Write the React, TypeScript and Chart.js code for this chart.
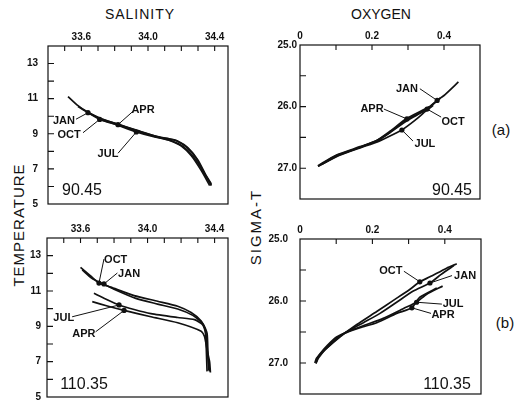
import React, { useEffect, useRef } from "react";
import { Chart, registerables } from "chart.js";

Chart.register(...registerables);

type Pt = [number, number];

const INK = "#111111";
const FONT = '"Liberation Sans", Arial, sans-serif';

// ---- axis ticks and labels ----
const salinityTicks = [33.4, 33.5, 33.6, 33.7, 33.8, 33.9, 34.0, 34.1, 34.2, 34.3, 34.4];
const salinityLabels = [33.6, 34.0, 34.4];
const temperatureTicks = [5, 6, 7, 8, 9, 10, 11, 12, 13];
const temperatureLabels = [5, 7, 9, 11, 13];
const oxygenTicks = [0, 0.1, 0.2, 0.3, 0.4];
const oxygenLabels = [0, 0.2, 0.4];
const sigmaTicks = [25.0, 25.5, 26.0, 26.5, 27.0];
const sigmaLabels = [25.0, 26.0, 27.0];

const months = ["JAN", "OCT", "APR", "JUL"];

// ---- (a) station 90.45 : salinity vs temperature ----
const aTsJan: Pt[] = [[33.52, 11.12], [33.58, 10.6], [33.64, 10.22], [33.72, 9.86], [33.82, 9.55], [33.94, 9.16], [34.06, 8.82], [34.13, 8.62], [34.2, 8.3], [34.26, 7.75], [34.32, 6.9], [34.37, 6.05]];
const aTsOct: Pt[] = [[33.58, 10.55], [33.64, 10.2], [33.71, 9.82], [33.82, 9.5], [33.95, 9.1], [34.06, 8.79], [34.14, 8.6], [34.21, 8.28], [34.27, 7.72], [34.33, 6.88], [34.38, 6.05]];
const aTsApr: Pt[] = [[33.64, 10.2], [33.72, 9.84], [33.82, 9.54], [33.94, 9.18], [34.05, 8.86], [34.12, 8.72], [34.17, 8.6], [34.23, 8.25], [34.29, 7.6], [34.34, 6.7], [34.38, 6.1]];
const aTsJul: Pt[] = [[33.7, 9.86], [33.8, 9.56], [33.93, 9.1], [34.04, 8.82], [34.12, 8.72], [34.18, 8.58], [34.24, 8.2], [34.3, 7.5], [34.35, 6.6], [34.38, 6.15]];
const aTsMarkers: Pt[] = [[33.64, 10.2], [33.71, 9.82], [33.82, 9.52], [33.93, 9.1]];
const aTsLabelAt: Pt[] = [[33.496, 9.72], [33.526, 8.94], [33.97, 10.33], [33.76, 7.83]];
const aTsLeaderFrom: Pt[] = [[33.568, 9.83], [33.61, 9.06], [33.91, 10.28], [33.82, 7.89]];

// ---- (a) station 90.45 : oxygen vs sigma-t ----
const aOxJan: Pt[] = [[0.05, 26.97], [0.1, 26.8], [0.167, 26.66], [0.213, 26.55], [0.25, 26.42], [0.3, 26.22], [0.35, 26.05], [0.381, 25.9], [0.4, 25.82], [0.44, 25.6]];
const aOxOct: Pt[] = [[0.06, 26.94], [0.1, 26.81], [0.167, 26.66], [0.213, 26.56], [0.25, 26.42], [0.297, 26.21], [0.353, 26.04], [0.39, 25.86]];
const aOxApr: Pt[] = [[0.05, 26.96], [0.1, 26.79], [0.167, 26.65], [0.213, 26.55], [0.25, 26.4], [0.297, 26.19], [0.34, 26.06], [0.36, 26.0]];
const aOxJul: Pt[] = [[0.05, 26.97], [0.11, 26.79], [0.167, 26.67], [0.22, 26.56], [0.26, 26.45], [0.283, 26.38], [0.32, 26.22], [0.35, 26.07], [0.37, 25.98]];
const aOxMarkers: Pt[] = [[0.381, 25.9], [0.353, 26.04], [0.297, 26.2], [0.283, 26.38]];
const aOxLabelAt: Pt[] = [[0.297, 25.71], [0.425, 26.25], [0.2, 26.04], [0.347, 26.61]];
const aOxLeaderFrom: Pt[] = [[0.333, 25.71], [0.392, 26.17], [0.233, 26.04], [0.314, 26.56]];

// ---- (b) station 110.35 : salinity vs temperature ----
const bTsJan: Pt[] = [[33.61, 12.19], [33.67, 11.7], [33.74, 11.38], [33.8, 11.1], [33.93, 10.58], [34.06, 10.26], [34.18, 9.98], [34.27, 9.62], [34.33, 9.15], [34.355, 8.6], [34.36, 7.5], [34.365, 6.5]];
const bTsOct: Pt[] = [[33.6, 12.34], [33.66, 11.85], [33.71, 11.45], [33.78, 11.22], [33.92, 10.74], [34.06, 10.42], [34.18, 10.14], [34.26, 9.78], [34.32, 9.3], [34.345, 8.8], [34.35, 7.86], [34.355, 6.45]];
const bTsApr: Pt[] = [[33.67, 10.4], [33.76, 10.15], [33.86, 9.9], [34.02, 9.54], [34.18, 9.2], [34.32, 8.72], [34.34, 8.42], [34.355, 7.67], [34.37, 7.0], [34.375, 6.39]];
const bTsJul: Pt[] = [[33.68, 10.87], [33.75, 10.55], [33.83, 10.21], [33.92, 9.95], [34.02, 9.72], [34.18, 9.5], [34.28, 9.38], [34.33, 9.08], [34.35, 8.42], [34.36, 7.3], [34.37, 6.45]];
const bTsMarkers: Pt[] = [[33.74, 11.4], [33.71, 11.45], [33.86, 9.9], [33.83, 10.21]];
const bTsLabelAt: Pt[] = [[33.89, 11.97], [33.81, 12.76], [33.62, 8.58], [33.5, 9.48]];
const bTsLeaderFrom: Pt[] = [[33.82, 12.02], [33.74, 12.81], [33.69, 8.69], [33.55, 9.54]];

// ---- (b) station 110.35 : oxygen vs sigma-t ----
const bOxJan: Pt[] = [[0.425, 25.43], [0.39, 25.57], [0.359, 25.71], [0.313, 25.84], [0.267, 26.02], [0.221, 26.2], [0.175, 26.35], [0.12, 26.53], [0.083, 26.71], [0.051, 26.89], [0.046, 26.97]];
const bOxOct: Pt[] = [[0.433, 25.4], [0.405, 25.47], [0.359, 25.61], [0.331, 25.69], [0.304, 25.81], [0.258, 25.99], [0.212, 26.17], [0.157, 26.38], [0.11, 26.58], [0.074, 26.76], [0.046, 26.92], [0.041, 27.0]];
const bOxApr: Pt[] = [[0.378, 25.79], [0.331, 25.94], [0.309, 26.11], [0.267, 26.2], [0.212, 26.35], [0.166, 26.43], [0.12, 26.53], [0.083, 26.69], [0.051, 26.92], [0.044, 27.01]];
const bOxJul: Pt[] = [[0.394, 25.76], [0.35, 25.89], [0.322, 26.02], [0.286, 26.12], [0.23, 26.28], [0.184, 26.38], [0.138, 26.48], [0.101, 26.58], [0.075, 26.72], [0.052, 26.88], [0.045, 26.98]];
const bOxMarkers: Pt[] = [[0.359, 25.71], [0.331, 25.69], [0.309, 26.11], [0.322, 26.02]];
const bOxLabelAt: Pt[] = [[0.456, 25.6], [0.251, 25.51], [0.395, 26.22], [0.423, 26.05]];
const bOxLeaderFrom: Pt[] = [[0.42, 25.59], [0.287, 25.52], [0.362, 26.2], [0.392, 26.05]];

type PanelProps = {
  box: [number, number, number, number]; // left, top, right, bottom (page px)
  xRange: [number, number];
  yRange: [number, number];
  yReverse: boolean;
  xTicks: number[];
  xLabels: number[];
  xFmt: (v: number) => string;
  yTicks: number[];
  yLabels: number[];
  yFmt: (v: number) => string;
  yPad: number;
  curves: Pt[][];
  markers: Pt[];
  labelAt: Pt[];
  leaderFrom: Pt[];
};

const LEFT = 45;
const TOP = 22;
const RIGHT = 8;
const BOTTOM = 12;

const has = (arr: number[], v: number) => arr.some((a) => Math.abs(a - v) < 1e-6);

function Panel(p: PanelProps) {
  const ref = useRef<HTMLCanvasElement | null>(null);
  const [bl, bt, br, bb] = p.box;
  const w = br - bl + LEFT + RIGHT;
  const h = bb - bt + TOP + BOTTOM;

  useEffect(() => {
    if (!ref.current) return;
    const frame = {
      id: "frame",
      afterDatasetsDraw(chart: any) {
        const { ctx, chartArea: a, scales } = chart;
        const xs = scales.x;
        const ys = scales.y;
        ctx.save();
        ctx.strokeStyle = INK;
        ctx.lineWidth = 1.2;
        ctx.strokeRect(a.left, a.top, a.right - a.left, a.bottom - a.top);
        ctx.lineWidth = 1.1;
        ctx.beginPath();
        xs.ticks.forEach((t: any) => {
          const px = xs.getPixelForValue(t.value);
          if (px > a.left + 1 && px < a.right - 1) {
            ctx.moveTo(px, a.top);
            ctx.lineTo(px, a.top + 5);
          }
        });
        ys.ticks.forEach((t: any) => {
          const py = ys.getPixelForValue(t.value);
          if (py > a.top + 1 && py < a.bottom - 1) {
            ctx.moveTo(a.left, py);
            ctx.lineTo(a.left + 6, py);
          }
        });
        ctx.stroke();
        // leaders
        ctx.lineWidth = 1;
        ctx.beginPath();
        p.leaderFrom.forEach((f, i) => {
          const m = p.markers[i];
          ctx.moveTo(xs.getPixelForValue(f[0]), ys.getPixelForValue(f[1]));
          ctx.lineTo(xs.getPixelForValue(m[0]), ys.getPixelForValue(m[1]));
        });
        ctx.stroke();
        ctx.fillStyle = INK;
        ctx.font = `bold 11px ${FONT}`;
        ctx.textAlign = "center";
        ctx.textBaseline = "middle";
        p.labelAt.forEach((l, i) => {
          ctx.fillText(months[i], xs.getPixelForValue(l[0]), ys.getPixelForValue(l[1]));
        });
        ctx.restore();
      },
    };

    const chart = new Chart(ref.current, {
      type: "scatter",
      data: {
        datasets: [
          ...p.curves.map((c) => ({
            data: c.map(([x, y]) => ({ x, y })),
            showLine: true,
            borderColor: INK,
            borderWidth: 1.7,
            pointRadius: 0,
            tension: 0.2,
            fill: false,
          })),
          {
            data: p.markers.map(([x, y]) => ({ x, y })),
            showLine: false,
            pointRadius: 2.6,
            pointBackgroundColor: INK,
            pointBorderWidth: 0,
            borderColor: INK,
          },
        ],
      } as any,
      options: {
        animation: false,
        responsive: false,
        maintainAspectRatio: false,
        layout: { padding: { left: 0, top: 0, right: RIGHT, bottom: BOTTOM } },
        plugins: { legend: { display: false }, tooltip: { enabled: false } },
        scales: {
          x: {
            type: "linear",
            position: "top",
            min: p.xRange[0],
            max: p.xRange[1],
            grid: { display: false, drawTicks: false },
            border: { display: false },
            ticks: {
              padding: 3,
              color: INK,
              font: { size: 10, family: FONT, weight: "bold" },
              maxRotation: 0,
              autoSkip: false,
              includeBounds: false,
              callback: (v: any) => (has(p.xLabels, Number(v)) ? p.xFmt(Number(v)) : ""),
            },
            afterBuildTicks: (s: any) => {
              s.ticks = p.xTicks.map((v) => ({ value: v }));
            },
            afterFit: (s: any) => {
              s.height = TOP;
            },
          },
          y: {
            type: "linear",
            position: "left",
            reverse: p.yReverse,
            min: p.yRange[0],
            max: p.yRange[1],
            grid: { display: false, drawTicks: false },
            border: { display: false },
            ticks: {
              padding: p.yPad,
              color: INK,
              font: { size: 10, family: FONT, weight: "bold" },
              autoSkip: false,
              includeBounds: false,
              callback: (v: any) => (has(p.yLabels, Number(v)) ? p.yFmt(Number(v)) : ""),
            },
            afterBuildTicks: (s: any) => {
              s.ticks = p.yTicks.map((v) => ({ value: v }));
            },
            afterFit: (s: any) => {
              s.width = LEFT;
            },
          },
        },
      } as any,
      plugins: [frame],
    });
    return () => chart.destroy();
  }, []);

  return (
    <div style={{ position: "absolute", left: bl - LEFT, top: bt - TOP, width: w, height: h }}>
      <canvas ref={ref} width={w} height={h} style={{ width: w, height: h, display: "block" }} />
    </div>
  );
}

function Txt(props: { x: number; y: number; size: number; text: string; rotate?: boolean; spacing?: number }) {
  return (
    <div
      style={{
        position: "absolute",
        left: props.x,
        top: props.y,
        transform: `translate(-50%, -50%)${props.rotate ? " rotate(-90deg)" : ""}`,
        fontFamily: FONT,
        fontSize: props.size,
        letterSpacing: props.spacing ?? 0,
        lineHeight: 1,
        whiteSpace: "nowrap",
        color: INK,
      }}
    >
      {props.text}
    </div>
  );
}

const fmt1 = (v: number) => v.toFixed(1);
const fmtInt = (v: number) => String(Math.round(v));
const fmtOx = (v: number) => (Math.abs(v) < 1e-9 ? "0" : v.toFixed(1));

export default function App() {
  return (
    <div style={{ position: "absolute", left: 0, top: 0, width: 514, height: 407, background: "#fff", overflow: "hidden" }}>
      <Txt x={140} y={14} size={14} text="SALINITY" spacing={1} />
      <Txt x={381} y={14} size={14} text="OXYGEN" />
      <Txt x={18} y={225} size={15} text="TEMPERATURE" rotate spacing={1} />
      <Txt x={255} y={227} size={15} text="SIGMA-T" rotate spacing={2} />
      <Txt x={501} y={129} size={15} text="(a)" />
      <Txt x={505} y={322} size={15} text="(b)" />

      <Panel
        box={[48, 46, 228, 208]}
        xRange={[33.4, 34.48]}
        yRange={[5, 14]}
        yReverse={false}
        xTicks={salinityTicks}
        xLabels={salinityLabels}
        xFmt={fmt1}
        yTicks={temperatureTicks}
        yLabels={temperatureLabels}
        yFmt={fmtInt}
        yPad={10}
        curves={[aTsJan, aTsOct, aTsApr, aTsJul]}
        markers={aTsMarkers}
        labelAt={aTsLabelAt}
        leaderFrom={aTsLeaderFrom}
      />
      <Panel
        box={[300, 45, 480, 199]}
        xRange={[0, 0.5]}
        yRange={[25, 27.5]}
        yReverse={true}
        xTicks={oxygenTicks}
        xLabels={oxygenLabels}
        xFmt={fmtOx}
        yTicks={sigmaTicks}
        yLabels={sigmaLabels}
        yFmt={fmt1}
        yPad={3}
        curves={[aOxJan, aOxOct, aOxApr, aOxJul]}
        markers={aOxMarkers}
        labelAt={aOxLabelAt}
        leaderFrom={aOxLeaderFrom}
      />
      <Panel
        box={[47, 238, 228, 397]}
        xRange={[33.4, 34.48]}
        yRange={[5, 14]}
        yReverse={false}
        xTicks={salinityTicks}
        xLabels={salinityLabels}
        xFmt={fmt1}
        yTicks={temperatureTicks}
        yLabels={temperatureLabels}
        yFmt={fmtInt}
        yPad={6}
        curves={[bTsJan, bTsOct, bTsApr, bTsJul]}
        markers={bTsMarkers}
        labelAt={bTsLabelAt}
        leaderFrom={bTsLeaderFrom}
      />
      <Panel
        box={[300, 239, 481, 400]}
        xRange={[0, 0.5]}
        yRange={[25, 27.5]}
        yReverse={true}
        xTicks={oxygenTicks}
        xLabels={oxygenLabels}
        xFmt={fmtOx}
        yTicks={sigmaTicks}
        yLabels={sigmaLabels}
        yFmt={fmt1}
        yPad={12}
        curves={[bOxJan, bOxOct, bOxApr, bOxJul]}
        markers={bOxMarkers}
        labelAt={bOxLabelAt}
        leaderFrom={bOxLeaderFrom}
      />

      <Txt x={82} y={190} size={16} text="90.45" />
      <Txt x={452} y={190} size={16} text="90.45" />
      <Txt x={84} y={384} size={16} text="110.35" />
      <Txt x={447} y={384} size={16} text="110.35" />
    </div>
  );
}
